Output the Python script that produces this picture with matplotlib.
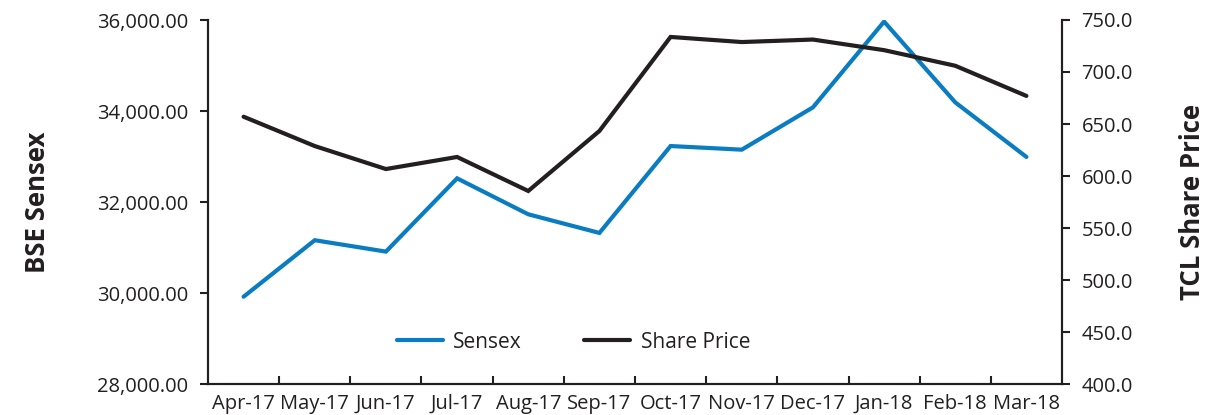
import matplotlib.pyplot as plt
from matplotlib.ticker import FuncFormatter, MultipleLocator

MONTHS = ["Apr-17", "May-17", "Jun-17", "Jul-17", "Aug-17", "Sep-17",
          "Oct-17", "Nov-17", "Dec-17", "Jan-18", "Feb-18", "Mar-18"]
SENSEX = [29918, 31160, 30910, 32520, 31730, 31320,
          33230, 33150, 34080, 35965, 34190, 32990]
SHARE_PRICE = [657.0, 628.8, 606.7, 618.3, 585.6, 643.3,
               733.7, 728.8, 731.2, 721.0, 706.0, 677.0]

BLUE = "#0a7dc2"
DARK = "#231f20"

plt.rcParams["font.family"] = ["Open Sans", "DejaVu Sans"]

fig = plt.figure(figsize=(12.07, 4.15), dpi=100)
ax = fig.add_axes([208 / 1207, 1 - 384 / 415, (1062 - 208) / 1207, 364 / 415])
ax2 = ax.twinx()

x = list(range(len(MONTHS)))
l1, = ax.plot(x, SENSEX, color=BLUE, lw=3.0, solid_capstyle="round",
              solid_joinstyle="miter", label="Sensex", zorder=3)
l2, = ax2.plot(x, SHARE_PRICE, color=DARK, lw=3.0, solid_capstyle="round",
               solid_joinstyle="miter", label="Share Price", zorder=3)

ax.set_xlim(-0.5, len(MONTHS) - 0.5)
ax.set_ylim(28000, 36000)
ax2.set_ylim(400, 750)
ax.yaxis.set_major_locator(MultipleLocator(2000))
ax2.yaxis.set_major_locator(MultipleLocator(50))
ax.yaxis.set_major_formatter(FuncFormatter(lambda v, p: f"{v:,.2f}"))
ax2.yaxis.set_major_formatter(FuncFormatter(lambda v, p: f"{v:.1f}"))

ax.set_xticks(x)
ax.set_xticklabels(MONTHS)
ax.set_xticks([i + 0.5 for i in x[:-1]], minor=True)
ax.tick_params(axis="x", which="major", length=0, pad=7,
               labelsize=14.5, colors=DARK)
ax.tick_params(axis="x", which="minor", direction="in", length=6,
               width=1.5, color=DARK)
ax.tick_params(axis="y", direction="out", length=6, width=1.5,
               labelsize=14.5, colors=DARK, pad=8)
ax2.tick_params(axis="y", direction="out", length=6, width=1.5,
                labelsize=14.5, colors=DARK, pad=8)

for a in (ax, ax2):
    a.spines["top"].set_visible(False)
    for s in ("left", "right", "bottom"):
        a.spines[s].set_linewidth(1.5)
        a.spines[s].set_color(DARK)

ax.set_ylabel("BSE Sensex", fontsize=18.5, fontweight="bold", color=DARK,
              labelpad=33)
ax2.set_ylabel("TCL Share Price", fontsize=18.5, fontweight="bold",
               color=DARK, labelpad=33)

ax.legend([l1, l2], ["Sensex", "Share Price"], loc="center",
          bbox_to_anchor=(0.428, 0.115), ncol=2, frameon=False,
          fontsize=15, handlelength=2.2, handletextpad=0.5,
          columnspacing=3.0, labelcolor=DARK)

fig.savefig("out.png", dpi=100)
